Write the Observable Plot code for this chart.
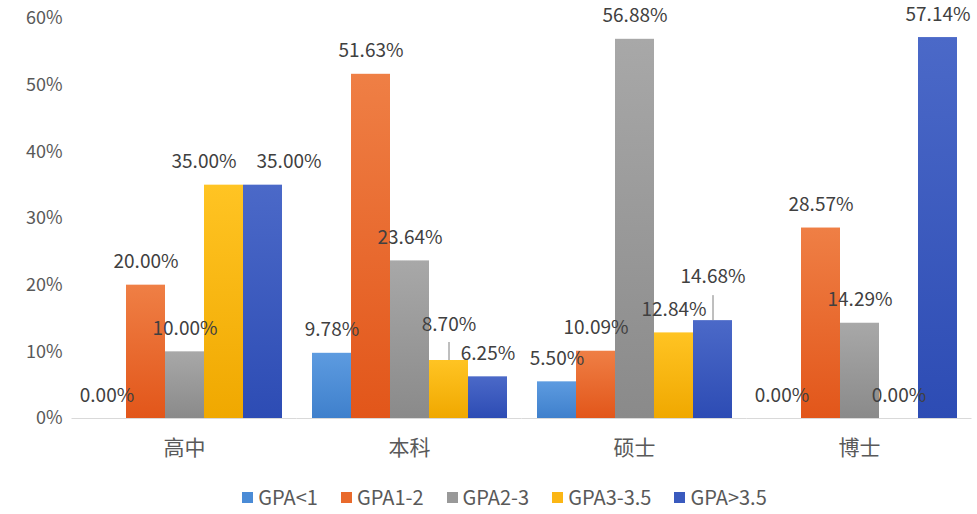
<!DOCTYPE html>
<html><head><meta charset="utf-8">
<script src="https://cdn.jsdelivr.net/npm/d3@7"></script>
<script src="https://cdn.jsdelivr.net/npm/@observablehq/plot@0.6"></script>
<style>
body{margin:0;background:#fff;font-family:"Noto Sans CJK SC","Noto Sans",sans-serif;}
#legend{display:flex;justify-content:center;gap:23px;font-size:20px;color:#595959;margin-top:15px;padding-left:32px;line-height:24px}
.item{display:flex;align-items:center;gap:5px}
.sw{width:11px;height:11px;display:inline-block}
</style></head><body><div id="chart"></div><div id="legend"></div>
<script>
const categories = ["高中", "本科", "硕士", "博士"];
const series = ["GPA<1", "GPA1-2", "GPA2-3", "GPA3-3.5", "GPA>3.5"];
const gpaLt1   = [0.0000, 0.0978, 0.0550, 0.0000];
const gpa1to2  = [0.2000, 0.5163, 0.1009, 0.2857];
const gpa2to3  = [0.1000, 0.2364, 0.5688, 0.1429];
const gpa3to35 = [0.3500, 0.0870, 0.1284, 0.0000];
const gpaGt35  = [0.3500, 0.0625, 0.1468, 0.5714];
const yTicks = [0, 0.1, 0.2, 0.3, 0.4, 0.5, 0.6];

const seriesValues = [gpaLt1, gpa1to2, gpa2to3, gpa3to35, gpaGt35];
const colorTop    = ["#5d9be0", "#ef7f45", "#a8a8a8", "#ffc423", "#4b69c8"];
const colorBottom = ["#3f80cc", "#e2561a", "#8a8a8a", "#f0a800", "#2d4cb4"];
const colorFlat   = ["#4a8bd6", "#e96a2c", "#999999", "#fbb614", "#3a5abe"];

// label placement tweaks (pixels): shift dx/dy, optional leader line length
const nudges = [
  {category: "高中", series: "GPA3-3.5", dx: -20, dy: 0, line: 0},
  {category: "高中", series: "GPA>3.5", dx: 26, dy: 0, line: 0},
  {category: "本科", series: "GPA3-3.5", dx: 0, dy: -13, line: 18},
  {category: "硕士", series: "GPA>3.5", dx: 0, dy: -21, line: 25}
];

const data = [];
categories.forEach((c, ci) => series.forEach((s, si) => data.push({category: c, series: s, value: seriesValues[si][ci]})));
const findNudge = d => nudges.find(l => l.category === d.category && l.series === d.series);

const W = 977, H = 470, mTop = 18, mBottom = 52;
const pxPerUnit = (H - mTop - mBottom) / 0.6;
const fmt = d3.format(".2%");
const labelStyle = {fx: "category", x: "series", y: "value", text: d => fmt(d.value), fontSize: 19, fill: "#404040"};

const marks = [
  Plot.ruleY([0], {stroke: "#d9d9d9", strokeWidth: 1.2, insetLeft: -13.5, insetRight: -13.5}),
  Plot.barY(data, {fx: "category", x: "series", y: "value", fill: "series"}),
  Plot.text(data.filter(d => !findNudge(d)), {...labelStyle, dy: -23})
];
nudges.forEach(l => {
  const d = data.filter(e => e.category === l.category && e.series === l.series);
  marks.push(Plot.text(d, {...labelStyle, dx: l.dx, dy: -23 + l.dy}));
  if (l.line) marks.push(Plot.ruleX(d, {fx: "category", x: "series", y1: "value", y2: e => e.value + l.line / pxPerUnit, stroke: "#7f7f7f", strokeWidth: 1}));
});
marks.push(Plot.axisY({ticks: yTicks, tickFormat: d3.format(".0%"), tickSize: 0, tickPadding: 23, fontSize: 18, label: null, color: "#595959"}));
marks.push(Plot.axisFx({anchor: "bottom", tickSize: 0, tickPadding: 22, fontSize: 21, label: null, color: "#595959"}));

const svg = Plot.plot({
  width: W, height: H,
  marginLeft: 71, marginRight: 6, marginTop: mTop, marginBottom: mBottom,
  style: {fontFamily: '"Noto Sans CJK SC","Noto Sans",sans-serif', background: "#fff"},
  fx: {domain: categories, paddingInner: 0.12, paddingOuter: 0.06, label: null},
  x: {domain: series, padding: 0, axis: null},
  y: {domain: [0, 0.6], axis: null},
  color: {domain: series, range: series.map((s, i) => `url(#grad${i})`)},
  marks
});

const defs = d3.select(svg).insert("defs", ":first-child");
series.forEach((s, i) => {
  const g = defs.append("linearGradient").attr("id", `grad${i}`).attr("x1", 0).attr("y1", 0).attr("x2", 0).attr("y2", 1);
  g.append("stop").attr("offset", "0%").attr("stop-color", colorTop[i]);
  g.append("stop").attr("offset", "100%").attr("stop-color", colorBottom[i]);
});
document.getElementById("chart").appendChild(svg);

const legend = d3.select("#legend");
series.forEach((s, i) => {
  const it = legend.append("div").attr("class", "item");
  it.append("span").attr("class", "sw").style("background", colorFlat[i]);
  it.append("span").text(s);
});
</script></body></html>
